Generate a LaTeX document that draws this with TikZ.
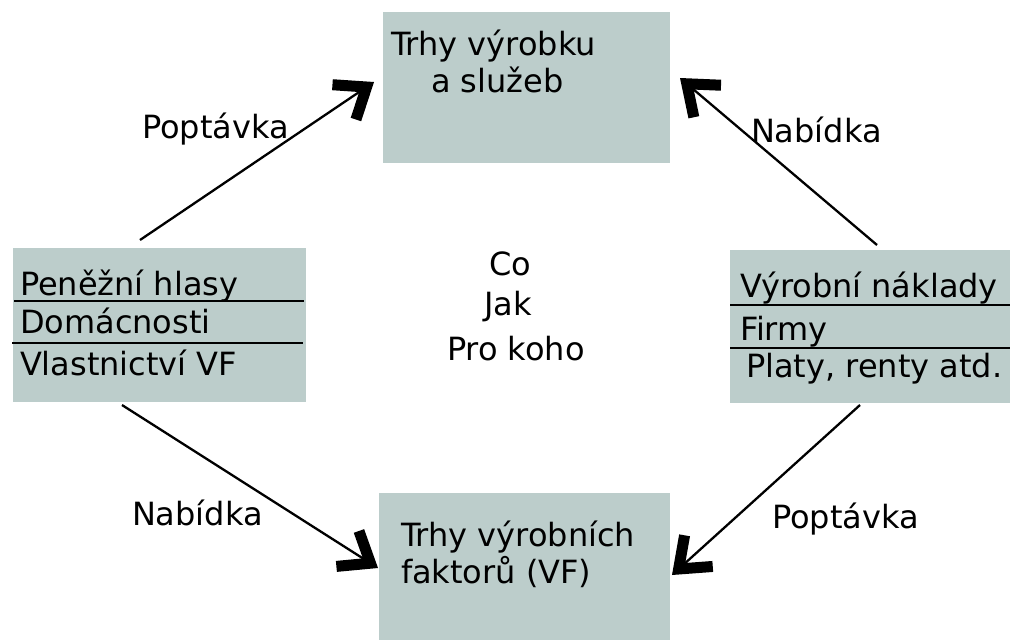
\documentclass[tikz,border=0pt]{standalone}
\usepackage{fontspec}
\setmainfont{DejaVu Sans}
\usetikzlibrary{arrows.meta}
\definecolor{boxfill}{RGB}{188,205,203}
\begin{document}
\begin{tikzpicture}[x=1pt,y=-1pt,
  every node/.style={inner sep=0pt,outer sep=0pt,font=\fontsize{32}{38}\selectfont},
  box/.style={fill=boxfill,draw=none},
  txt/.style={anchor=base west},
  sep/.style={line width=2.5pt,black},
  flow/.style={line width=2.3pt,-{Straight Barb[length=27pt,width=42pt,line width=11pt]}}]
\useasboundingbox (0,0) rectangle (1010,640);
% boxes
\node[box,minimum width=287pt,minimum height=151pt,anchor=north west] (top) at (383,12) {};
\node[box,minimum width=291pt,minimum height=147pt,anchor=north west] (bot) at (379,493) {};
\node[box,minimum width=293pt,minimum height=154pt,anchor=north west] (left) at (13,248) {};
\node[box,minimum width=280pt,minimum height=153pt,anchor=north west] (right) at (730,250) {};
% box texts
\node[txt] (t1) at (391,55) {Trhy výrobku};
\node[txt] (t2) at (431,92) {a služeb};
\node[txt] (b1) at (401,546) {Trhy výrobních};
\node[txt] (b2) at (401,583) {faktorů (VF)};
\node[txt] (l1) at (20,295) {Peněžní hlasy};
\node[txt] (l2) at (20,333) {Domácnosti};
\node[txt] (l3) at (20,375) {Vlastnictví VF};
\node[txt] (r1) at (740,297) {Výrobní náklady};
\node[txt] (r2) at (740,340) {Firmy};
\node[txt] (r3) at (746,377) {Platy, renty atd.};
% separators
\coordinate (ls1a) at (14,301); \coordinate (ls1b) at (304,301);
\coordinate (ls2a) at (12,343); \coordinate (ls2b) at (303,343);
\coordinate (rs1a) at (730,305); \coordinate (rs1b) at (1010,305);
\coordinate (rs2a) at (730,348); \coordinate (rs2b) at (1010,348);
\draw[sep] (ls1a) -- (ls1b);
\draw[sep] (ls2a) -- (ls2b);
\draw[sep] (rs1a) -- (rs1b);
\draw[sep] (rs2a) -- (rs2b);
% centre
\node[txt] (co) at (489,275) {Co};
\node[txt] (jak) at (484,315) {Jak};
\node[txt] (pro) at (447,360) {Pro koho};
% labels
\node[txt] (p1) at (142,138) {Poptávka};
\node[txt] (n1) at (751,142) {Nabídka};
\node[txt] (n2) at (132,525) {Nabídka};
\node[txt] (p2) at (772,528) {Poptávka};
% arrows
\coordinate (a1s) at (140,240); \coordinate (a1e) at (374,82);
\coordinate (a2s) at (877,245); \coordinate (a2e) at (680,78);
\coordinate (a3s) at (122,405); \coordinate (a3e) at (378,568);
\coordinate (a4s) at (860,405); \coordinate (a4e) at (672,575);
\draw[flow] (a1s) -- (a1e);
\draw[flow] (a2s) -- (a2e);
\draw[flow] (a3s) -- (a3e);
\draw[flow] (a4s) -- (a4e);
\end{tikzpicture}
\end{document}
